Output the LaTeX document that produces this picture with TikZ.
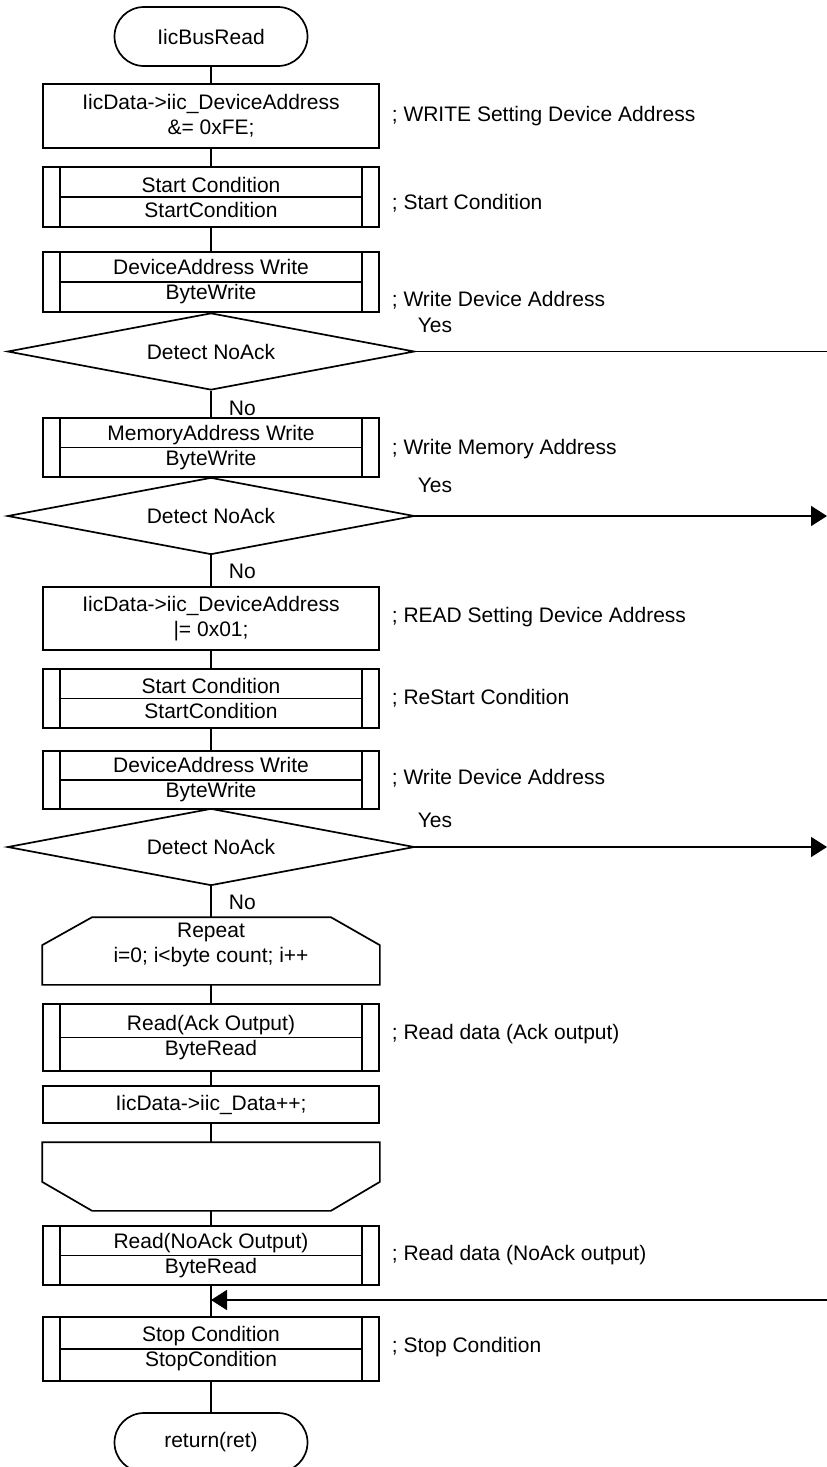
\documentclass[tikz,border=0pt]{standalone}
\usepackage{fontspec}
\setmainfont{Liberation Sans}
\usetikzlibrary{shapes.geometric,arrows.meta,calc}

\tikzset{
  txt/.style={font=\fontsize{21}{25}\selectfont, inner sep=0pt, align=center},
  term/.style={txt, draw, rectangle, rounded corners=29.5pt, minimum width=193pt, minimum height=59pt},
  proc/.style={txt, draw, rectangle, minimum width=336pt},
  sub/.style={proc, path picture={
    \draw ([xshift=17pt]path picture bounding box.north west) -- ([xshift=17pt]path picture bounding box.south west)
          ([xshift=-17pt]path picture bounding box.north east) -- ([xshift=-17pt]path picture bounding box.south east)
          ([xshift=17pt]path picture bounding box.west) -- ([xshift=-17pt]path picture bounding box.east);}},
  dec/.style={txt, draw, diamond, aspect=5.3, minimum width=407pt, minimum height=77pt},
  note/.style={txt, anchor=west, align=left, text height=14pt, text depth=0pt},
  loopbox/.style={txt, rectangle, minimum width=336pt},
  arr/.style={-{Triangle[length=16pt,width=20pt]}}
}

\begin{document}
\begin{tikzpicture}[x=1pt, y=-1pt, line width=1.7pt]
\useasboundingbox (0,0) rectangle (827,1467);

% main column
\node[term] (t1) at (211,36.5) {IicBusRead};
\node[proc, minimum height=64pt] (b1) at (211,116) {IicData->iic\_DeviceAddress\\\&= 0xFE;};
\node[sub, minimum height=60pt] (b2) at (211,197) {Start Condition\\StartCondition};
\node[sub, minimum height=60pt] (b3) at (211,282) {DeviceAddress Write\\ByteWrite};
\node[dec] (d1) at (211,351.5) {Detect NoAck};
\node[sub, minimum height=59pt] (b4) at (211,447.5) {MemoryAddress Write\\ByteWrite};
\node[dec] (d2) at (211,516) {Detect NoAck};
\node[proc, minimum height=63pt] (b5) at (211,618.5) {IicData->iic\_DeviceAddress\\|= 0x01;};
\node[sub, minimum height=59pt] (b6) at (211,698.5) {Start Condition\\StartCondition};
\node[sub, minimum height=58pt] (b7) at (211,780) {DeviceAddress Write\\ByteWrite};
\node[dec] (d3) at (211,847) {Detect NoAck};
\node[loopbox, minimum height=66pt,
      label={[txt, yshift=6pt]center:{Repeat\\i=0; i<byte count; i++}}] (la) at (211,951) {};
\node[sub, minimum height=67pt] (b8) at (211,1037.5) {Read(Ack Output)\\ByteRead};
\node[proc, minimum height=37pt] (b9) at (211,1104.5) {IicData->iic\_Data++;};
\node[loopbox, minimum height=67pt] (lb) at (211,1176.5) {};
\node[sub, minimum height=59pt] (b10) at (211,1255.5) {Read(NoAck Output)\\ByteRead};
\node[sub, minimum height=64pt] (b11) at (211,1349) {Stop Condition\\StopCondition};
\node[term] (t2) at (211,1442.5) {return(ret)};

% loop start and loop end outlines
\draw ($(la.north west)+(50,0)$) -- ($(la.north east)+(-49,0)$) -- ($(la.north east)+(0,28)$)
      -- (la.south east) -- (la.south west) -- ($(la.north west)+(0,28)$) -- cycle;
\draw (lb.north west) -- (lb.north east) -- ($(lb.south east)+(0,-29)$) -- ($(lb.south east)+(-49,0)$)
      -- ($(lb.south west)+(50,0)$) -- ($(lb.south west)+(0,-29)$) -- cycle;

% comments
\node[note] (c1) at (391,114) {; WRITE Setting Device Address};
\node[note] (c2) at (391,202) {; Start Condition};
\node[note] (c3) at (391,299) {; Write Device Address};
\node[note] (c4) at (391,447) {; Write Memory Address};
\node[note] (c5) at (391,615) {; READ Setting Device Address};
\node[note] (c6) at (391,697) {; ReStart Condition};
\node[note] (c7) at (391,777) {; Write Device Address};
\node[note] (c8) at (391,1032) {; Read data (Ack output)};
\node[note] (c9) at (391,1253) {; Read data (NoAck output)};
\node[note] (c10) at (391,1345) {; Stop Condition};

% branch labels
\node[note] (y1) at (417,325) {Yes};
\node[note] (y2) at (417,485) {Yes};
\node[note] (y3) at (417,820) {Yes};
\node[note] (n1) at (228,408) {No};
\node[note] (n2) at (228,571) {No};
\node[note] (n3) at (228,902) {No};

% vertical flow
\draw (t1) -- (b1);
\draw (b1) -- (b2);
\draw (b2) -- (b3);
\draw (b3) -- (d1);
\draw (d1) -- (b4);
\draw (b4) -- (d2);
\draw (d2) -- (b5);
\draw (b5) -- (b6);
\draw (b6) -- (b7);
\draw (b7) -- (d3);
\draw (d3) -- (la);
\draw (la) -- (b8);
\draw (b8) -- (b9);
\draw (b9) -- (lb);
\draw (lb) -- (b10);
\draw (b10) -- (b11);
\draw (b11) -- (t2);

% NoAck exits
\coordinate (e1) at (827,351.5);
\coordinate (e2) at (827,516);
\coordinate (e3) at (827,847);
\coordinate (e4) at (827,1300);
\coordinate (join) at (211,1300);
\draw (d1.east) -- (e1);
\draw[arr] (d2.east) -- (e2);
\draw[arr] (d3.east) -- (e3);
\draw[arr] (e4) -- (join);
\end{tikzpicture}
\end{document}
